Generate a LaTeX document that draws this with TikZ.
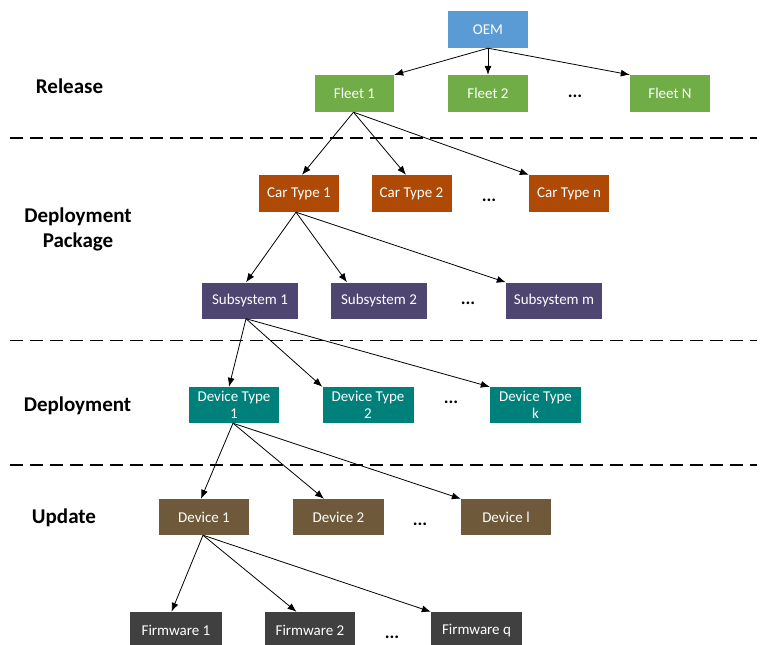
\documentclass[tikz,border=0pt]{standalone}
\usepackage{fontspec}
\setmainfont{Carlito}
\usetikzlibrary{arrows.meta}
\definecolor{oemblue}{HTML}{5B9BD5}
\definecolor{fleetgreen}{HTML}{70AD47}
\definecolor{carorange}{HTML}{AE4A06}
\definecolor{subpurple}{HTML}{4F4571}
\definecolor{devteal}{HTML}{00807A}
\definecolor{devbrown}{HTML}{6E5A3B}
\definecolor{fwgrey}{HTML}{404040}
\tikzset{
  box/.style={rectangle, inner sep=0pt, text=white, align=center,
    font=\fontsize{15}{16}\selectfont, minimum height=37pt},
  lvl/.style={font=\fontsize{21}{25}\selectfont\bfseries, align=center},
  dotsnode/.style={font=\fontsize{18}{20}\selectfont\bfseries},
  sep/.style={dashed, dash pattern=on 13pt off 7pt, line width=1.4pt},
  arr/.style={-{Latex[length=9pt,width=7pt]}, line width=0.8pt}
}
\begin{document}
\begin{tikzpicture}[x=1pt,y=-1pt]
\clip (0,0) rectangle (764,645);
\fill[white] (0,0) rectangle (764,645);
% separators
\draw[sep] (10,138) -- (757,138);
\draw[sep] (10,340.5) -- (757,340.5);
\draw[sep] (10,465) -- (757,465);
% level labels
\node[lvl] (lrel) at (69.5,86) {Release};
\node[lvl] (ldp) at (78,229.5) {Deployment\\Package};
\node[lvl] (ldep) at (77.5,406) {Deployment};
\node[lvl] (lupd) at (64,518) {Update};
% nodes
\node[box, fill=oemblue, minimum width=80pt] (oem) at (488,29.5) {OEM};
\node[box, fill=fleetgreen, minimum width=79pt] (f1) at (354.5,93.5) {Fleet 1};
\node[box, fill=fleetgreen, minimum width=80pt] (f2) at (488,93.5) {Fleet 2};
\node[box, fill=fleetgreen, minimum width=80pt] (fn) at (670,93.5) {Fleet N};
\node[dotsnode] (d1) at (575,96) {...};
\node[box, fill=carorange, minimum width=80pt] (ct1) at (299,193.5) {Car Type 1};
\node[box, fill=carorange, minimum width=80pt] (ct2) at (411.5,193.5) {Car Type 2};
\node[box, fill=carorange, minimum width=80pt] (ctn) at (569,193.5) {Car Type n};
\node[dotsnode] (d2) at (489,200) {...};
\node[box, fill=subpurple, minimum width=96pt, minimum height=36pt] (s1) at (250,300.5) {Subsystem 1};
\node[box, fill=subpurple, minimum width=96pt, minimum height=36pt] (s2) at (379,300.5) {Subsystem 2};
\node[box, fill=subpurple, minimum width=96pt, minimum height=36pt] (sm) at (554,300.5) {Subsystem m};
\node[dotsnode] (d3) at (468,303) {...};
\node[box, fill=devteal, minimum width=90pt, minimum height=36pt, font=\fontsize{15}{17}\selectfont] (dt1) at (234,405) {Device Type\\1};
\node[box, fill=devteal, minimum width=91pt, minimum height=36pt, font=\fontsize{15}{17}\selectfont] (dt2) at (368,405) {Device Type\\2};
\node[box, fill=devteal, minimum width=91pt, minimum height=36pt, font=\fontsize{15}{17}\selectfont] (dtk) at (535.5,405) {Device Type\\k};
\node[dotsnode] (d4) at (451,402) {...};
\node[box, fill=devbrown, minimum width=90pt, minimum height=36pt] (dv1) at (204,517) {Device 1};
\node[box, fill=devbrown, minimum width=91pt, minimum height=36pt] (dv2) at (338.5,517) {Device 2};
\node[box, fill=devbrown, minimum width=90pt, minimum height=36pt] (dvl) at (506,517) {Device l};
\node[dotsnode] (d5) at (420,524) {...};
\node[box, fill=fwgrey, minimum width=92pt] (fw1) at (176,630.5) {Firmware 1};
\node[box, fill=fwgrey, minimum width=90pt] (fw2) at (310,630.5) {Firmware 2};
\node[box, fill=fwgrey, minimum width=91pt] (fwq) at (476.5,630.5) {Firmware q};
\node[dotsnode] (d6) at (392,637) {...};
% arrows
\draw[arr] (oem.south) -- (f1.north east);
\draw[arr] (oem.south) -- (f2.north);
\draw[arr] (oem.south) -- (fn.north west);
\draw[arr] ([xshift=-1pt]f1.south) -- ([xshift=3pt]ct1.north);
\draw[arr] ([xshift=-1pt]f1.south) -- ([xshift=-5.5pt]ct2.north);
\draw[arr] ([xshift=-1pt]f1.south) -- (ctn.north west);
\draw[arr] ([xshift=-3pt]ct1.south) -- ([xshift=-4pt]s1.north);
\draw[arr] ([xshift=-3pt]ct1.south) -- ([xshift=-32pt]s2.north);
\draw[arr] ([xshift=-3pt]ct1.south) -- (sm.north west);
\draw[arr] ([xshift=-4pt]s1.south) -- ([xshift=-5pt]dt1.north);
\draw[arr] ([xshift=-4pt]s1.south) -- (dt2.north west);
\draw[arr] ([xshift=-4pt]s1.south) -- (dtk.north west);
\draw[arr] ([xshift=-1pt]dt1.south) -- ([xshift=-3pt]dv1.north);
\draw[arr] ([xshift=-1pt]dt1.south) -- ([xshift=-14.5pt]dv2.north);
\draw[arr] ([xshift=-1pt]dt1.south) -- (dvl.north west);
\draw[arr] ([xshift=-1pt]dv1.south) -- ([xshift=-4.5pt]fw1.north);
\draw[arr] ([xshift=-1pt]dv1.south) -- ([xshift=-13.5pt]fw2.north);
\draw[arr] ([xshift=-1pt]dv1.south) -- (fwq.north west);
\end{tikzpicture}
\end{document}
